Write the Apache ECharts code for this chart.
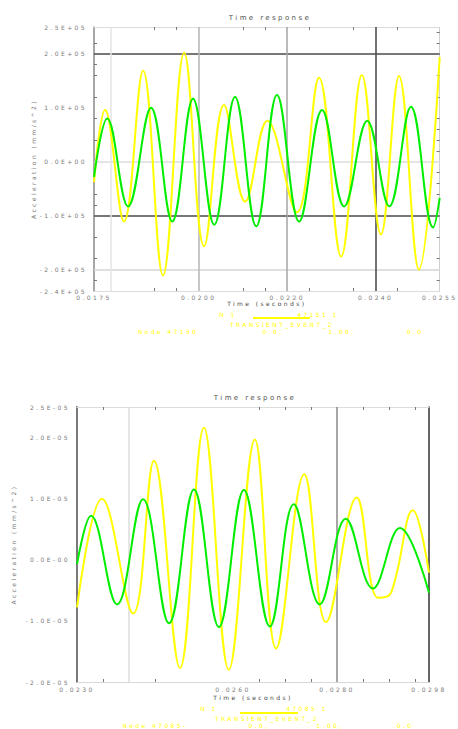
<!DOCTYPE html>
<html>
<head>
<meta charset="utf-8">
<script src="https://cdn.jsdelivr.net/npm/echarts@6/dist/echarts.min.js"></script>
<style>
html,body{margin:0;padding:0;background:#fff;}
#c{width:458px;height:729px;}
#c svg text{letter-spacing:2.4px;}
</style>
</head>
<body>
<div id="c"></div>
<script>
// ---------- Top plot (values in 1e5 mm/s^2) ----------
const topYellowTime = [0.01763,0.01788,0.01831,0.01874,0.01919,0.01967,0.02012,0.02057,0.02105,0.02155,0.02222,0.02272,0.02322,0.02369,0.02412,0.02453,0.02498,0.02545];
const topYellowVal  = [-0.38,0.96,-1.11,1.69,-2.11,2.02,-1.57,1.05,-0.74,0.76,-0.94,1.56,-1.76,1.61,-1.35,1.59,-2.00,1.94];
const topGreenTime  = [0.01763,0.01793,0.01840,0.01892,0.01940,0.01987,0.02035,0.02082,0.02130,0.02177,0.02227,0.02279,0.02329,0.02381,0.02431,0.02480,0.02530,0.02545];
const topGreenVal   = [-0.28,0.80,-0.83,1.00,-1.11,1.17,-1.17,1.20,-1.20,1.24,-1.11,0.96,-0.83,0.76,-0.83,1.02,-1.22,-0.67];
const topXMin = 0.01763, topXMax = 0.02545;
const topXLabelVals = [0.01763,0.0200,0.0220,0.0240,0.02545];
const topXLabels    = ['0.0175','0.0200','0.0220','0.0240','0.0255'];
const topXTicks     = [0.0190,0.0195,0.0210,0.0215,0.0225,0.0235,0.0245];
const topYMin = -2.4, topYMax = 2.5;
const topYLabelVals = [-2.4,-2.0,-1.0,0,1.0,2.0,2.5];
const topYLabels    = ['-2.4E+05','-2.0E+05','-1.0E+05','0.0E+00','1.0E+05','2.0E+05','2.5E+05'];
const topYTicksL    = [2.2,1.8,1.6,1.2,0.8,0.4,-0.6,-0.8,-1.4,-1.8,-2.2];
const topYTicksR    = [2.4,2.2,1.6,1.2,0.8,0.6,0.4,0.2,-0.2,-0.4,-0.6,-1.4,-1.8,-2.2];
const topHLines     = [-2.0,-1.0,0,2.0];
const topHColors    = ['#d4d4d4','#4a4a4a','#dddddd','#4a4a4a'];
const topVLines     = [0.0180,0.0200,0.0220,0.0240];
const topVColors    = ['#e4e4e4','#b4b4b4','#a4a4a4','#444444'];

// ---------- Bottom plot ----------
const botYellowTime = [0.02300,0.02348,0.02408,0.02448,0.02498,0.02544,0.02592,0.02642,0.02683,0.02737,0.02779,0.02838,0.02879,0.02904,0.02946,0.02977];
const botYellowVal  = [-0.78,1.00,-0.88,1.62,-1.77,2.16,-1.80,1.97,-1.45,1.40,-1.02,1.02,-0.62,-0.54,0.81,-0.21];
const botGreenTime  = [0.02300,0.02327,0.02377,0.02427,0.02477,0.02525,0.02573,0.02621,0.02671,0.02717,0.02767,0.02817,0.02869,0.02921,0.02977];
const botGreenVal   = [-0.07,0.72,-0.73,0.99,-1.04,1.15,-1.10,1.14,-1.09,0.91,-0.73,0.67,-0.47,0.52,-0.54];
const botXMin = 0.02300, botXMax = 0.02977;
const botXLabelVals = [0.02300,0.0260,0.0280,0.02977];
const botXLabels    = ['0.0230','0.0260','0.0280','0.0298'];
const botXTicks     = [0.0235,0.0245,0.0265,0.0270,0.0275,0.0285,0.0290,0.0295];
const botYMin = -2.0, botYMax = 2.5;
const botYLabelVals = [-2.0,-1.0,0,1.0,2.0,2.5];
const botYLabels    = ['-2.0E-05','-1.0E-05','0.0E-00','1.0E-05','2.0E-05','2.5E-05'];
const botVLines     = [0.0240,0.0280];
const botVColors    = ['#dddddd','#8a8a8a'];

const YELLOW = '#ffff00', GREEN = '#00ee00';
const FONT = 'DejaVu Sans';

function pick(vals, labs){
  return function(v){
    for (let i=0;i<vals.length;i++) if (Math.abs(vals[i]-v) < 1e-8) return labs[i];
    return '';
  };
}
function pairs(t, v){ return t.map((x,i)=>[x, v[i]]); }

const chart = echarts.init(document.getElementById('c'), null, {renderer:'svg'});

const lblStyle = {color:'#7a7a7a', fontSize:6, fontFamily:FONT};
const hidden = {axisLine:{show:false}, axisLabel:{show:false}};

function gridAxisX(grid, min, max, vals, colors){
  return {type:'value', gridIndex:grid, position:'bottom', min:min, max:max, z:1,
    axisLine:{show:false, onZero:false}, axisLabel:{show:false},
    axisTick:{show:false, customValues:vals},
    splitLine:{show:true, lineStyle:{color:colors, width:1.5}}};
}

const option = {
  animation:false,
  backgroundColor:'#fff',
  title:[
    {text:'Time response', left:265, top:9, textAlign:'center',
     textStyle:{fontSize:7, color:'#555', fontWeight:'normal', fontFamily:FONT}},
    {text:'Time response', left:250, top:389, textAlign:'center',
     textStyle:{fontSize:7, color:'#555', fontWeight:'normal', fontFamily:FONT}}
  ],
  grid:[
    {left:94, top:27, width:345.7, height:264},
    {left:77, top:407, width:352, height:275}
  ],
  xAxis:[
    {type:'value', gridIndex:0, position:'bottom', min:topXMin, max:topXMax,
     name:'Time (seconds)', nameLocation:'middle', nameGap:8,
     nameTextStyle:{fontSize:6, color:'#444', fontFamily:FONT},
     axisLine:{show:true, onZero:false, lineStyle:{color:'#dcdcdc', width:1}},
     axisTick:{show:true, inside:true, length:3, customValues:topXTicks, lineStyle:{color:'#777'}},
     axisLabel:Object.assign({customValues:topXLabelVals, formatter:pick(topXLabelVals, topXLabels), margin:3}, lblStyle),
     splitLine:{show:false}},
    {type:'value', gridIndex:0, position:'top', min:topXMin, max:topXMax,
     axisLine:{show:true, onZero:false, lineStyle:{color:'#dcdcdc', width:1}},
     axisTick:{show:true, inside:true, length:3, customValues:topXTicks, lineStyle:{color:'#777'}},
     axisLabel:{show:false}, splitLine:{show:false}},
    {type:'value', gridIndex:1, position:'bottom', min:botXMin, max:botXMax,
     name:'Time (seconds)', nameLocation:'middle', nameGap:12,
     nameTextStyle:{fontSize:6, color:'#444', fontFamily:FONT},
     axisLine:{show:true, onZero:false, lineStyle:{color:'#d8d8d8', width:1}},
     axisTick:{show:true, inside:true, length:3, customValues:botXTicks, lineStyle:{color:'#777'}},
     axisLabel:Object.assign({customValues:botXLabelVals, formatter:pick(botXLabelVals, botXLabels), margin:4}, lblStyle),
     splitLine:{show:false}},
    {type:'value', gridIndex:1, position:'top', min:botXMin, max:botXMax,
     axisLine:{show:true, onZero:false, lineStyle:{color:'#dcdcdc', width:1}},
     axisTick:{show:true, inside:true, length:3, customValues:botXTicks, lineStyle:{color:'#777'}},
     axisLabel:{show:false}, splitLine:{show:false}},
    gridAxisX(0, topXMin, topXMax, topVLines, topVColors),
    gridAxisX(1, botXMin, botXMax, botVLines, botVColors)
  ],
  yAxis:[
    {type:'value', gridIndex:0, position:'left', min:topYMin, max:topYMax,
     name:'Acceleration (mm/s^2)', nameLocation:'middle', nameGap:58,
     nameTextStyle:{fontSize:6, color:'#777', fontFamily:FONT},
     axisLine:{show:true, onZero:false, lineStyle:{color:'#8a8a8a', width:1.5}},
     axisTick:{show:true, inside:true, length:3, customValues:topYTicksL, lineStyle:{color:'#777'}},
     axisLabel:Object.assign({customValues:topYLabelVals, formatter:pick(topYLabelVals, topYLabels), margin:7}, lblStyle),
     splitLine:{show:false}},
    {type:'value', gridIndex:0, position:'right', min:topYMin, max:topYMax,
     axisLine:{show:true, onZero:false, lineStyle:{color:'#cfcfcf', width:1}},
     axisTick:{show:true, inside:true, length:3, customValues:topYTicksR, lineStyle:{color:'#777'}},
     axisLabel:{show:false}, splitLine:{show:false}},
    {type:'value', gridIndex:1, position:'left', min:botYMin, max:botYMax,
     name:'Acceleration (mm/s^2)', nameLocation:'middle', nameGap:61,
     nameTextStyle:{fontSize:6, color:'#777', fontFamily:FONT},
     axisLine:{show:true, onZero:false, lineStyle:{color:'#7a7a7a', width:2}},
     axisTick:{show:false},
     axisLabel:Object.assign({customValues:botYLabelVals, formatter:pick(botYLabelVals, botYLabels), margin:7}, lblStyle),
     splitLine:{show:false}},
    {type:'value', gridIndex:1, position:'right', min:botYMin, max:botYMax,
     axisLine:{show:true, onZero:false, lineStyle:{color:'#333', width:1.5}},
     axisTick:{show:false}, axisLabel:{show:false}, splitLine:{show:false}},
    {type:'value', gridIndex:0, position:'left', min:topYMin, max:topYMax, z:1,
     axisLine:{show:false, onZero:false}, axisLabel:{show:false},
     axisTick:{show:false, customValues:topHLines},
     splitLine:{show:true, lineStyle:{color:topHColors, width:1.5}}}
  ],
  series:[
    {type:'line', xAxisIndex:0, yAxisIndex:0, data:pairs(topYellowTime, topYellowVal),
     showSymbol:false, smooth:0.4, z:3, lineStyle:{color:YELLOW, width:2}, itemStyle:{color:YELLOW}},
    {type:'line', xAxisIndex:0, yAxisIndex:0, data:pairs(topGreenTime, topGreenVal),
     showSymbol:false, smooth:0.4, z:4, lineStyle:{color:GREEN, width:2}, itemStyle:{color:GREEN}},
    {type:'line', xAxisIndex:2, yAxisIndex:2, data:pairs(botYellowTime, botYellowVal),
     showSymbol:false, smooth:0.4, z:3, lineStyle:{color:YELLOW, width:2}, itemStyle:{color:YELLOW}},
    {type:'line', xAxisIndex:2, yAxisIndex:2, data:pairs(botGreenTime, botGreenVal),
     showSymbol:false, smooth:0.4, z:4, lineStyle:{color:GREEN, width:2}, itemStyle:{color:GREEN}}
  ],
  graphic:[
    // top legend
    {type:'text', style:{text:'N 1', x:228, y:314, align:'center', verticalAlign:'middle', fill:YELLOW, font:'6px '+FONT}},
    {type:'line', shape:{x1:253, y1:318, x2:310, y2:318}, style:{stroke:YELLOW, lineWidth:2}},
    {type:'text', style:{text:'47151 1', x:318, y:314, align:'center', verticalAlign:'middle', fill:YELLOW, font:'6px '+FONT}},
    {type:'text', style:{text:'TRANSIENT_EVENT_2', x:282, y:324, align:'center', verticalAlign:'middle', fill:YELLOW, font:'6px '+FONT}},
    {type:'text', style:{text:'Node 47150', x:168, y:331, align:'center', verticalAlign:'middle', fill:YELLOW, font:'6px '+FONT}},
    {type:'text', style:{text:'0.0,', x:273, y:331, align:'center', verticalAlign:'middle', fill:YELLOW, font:'6px '+FONT}},
    {type:'text', style:{text:'1.00,', x:342, y:331, align:'center', verticalAlign:'middle', fill:YELLOW, font:'6px '+FONT}},
    {type:'text', style:{text:'0.0', x:415, y:331, align:'center', verticalAlign:'middle', fill:YELLOW, font:'6px '+FONT}},
    // bottom legend
    {type:'text', style:{text:'N 1', x:209, y:708, align:'center', verticalAlign:'middle', fill:YELLOW, font:'6px '+FONT}},
    {type:'line', shape:{x1:240, y1:713, x2:298, y2:713}, style:{stroke:YELLOW, lineWidth:2}},
    {type:'text', style:{text:'47085 1', x:307, y:708, align:'center', verticalAlign:'middle', fill:YELLOW, font:'6px '+FONT}},
    {type:'text', style:{text:'TRANSIENT_EVENT_2', x:267, y:718, align:'center', verticalAlign:'middle', fill:YELLOW, font:'6px '+FONT}},
    {type:'text', style:{text:'Node 47085-', x:155, y:725, align:'center', verticalAlign:'middle', fill:YELLOW, font:'6px '+FONT}},
    {type:'text', style:{text:'0.0,', x:259, y:725, align:'center', verticalAlign:'middle', fill:YELLOW, font:'6px '+FONT}},
    {type:'text', style:{text:'1.00,', x:330, y:725, align:'center', verticalAlign:'middle', fill:YELLOW, font:'6px '+FONT}},
    {type:'text', style:{text:'0.0', x:405, y:725, align:'center', verticalAlign:'middle', fill:YELLOW, font:'6px '+FONT}}
  ]
};
chart.setOption(option);
</script>
</body>
</html>
